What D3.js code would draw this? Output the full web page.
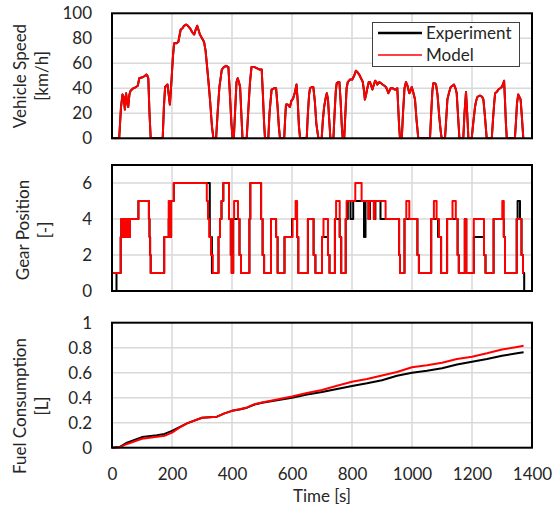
<!DOCTYPE html>
<html><head><meta charset="utf-8">
<script src="https://cdn.jsdelivr.net/npm/d3@7"></script>
<style>
body{margin:0;background:#fff;}
text{font-family:Lato,"Open Sans",sans-serif;fill:#262626;}
</style></head>
<body><svg id="c" width="556" height="508"></svg>
<script>
// ---------- DATA ----------
const xTicks = [0,200,400,600,800,1000,1200,1400];
const speedTicks = [0,20,40,60,80,100];
const gearTicks = [0,2,4,6];
const fuelTicks = [0,0.2,0.4,0.6,0.8,1];
const fuelTickLabels = ["0","0.2","0.4","0.6","0.8","1"];
const seriesNames = ["Experiment","Model"];

// Vehicle speed [km/h] (experiment and model overlap almost perfectly)
const speedTime = [0,20,24,30,35,39,43,47,50,54,58,62,71,80,86,91,104,110,115,118,121,125,129,169,173,177,185,189,193,198,203,207,215,221,225,229,235,240,247,253,260,267,274,279,284,288,293,300,307,312,321,327,333,338,347,352,358,366,373,380,388,393,398,402,406,411,415,419,423,427,432,435,449,455,460,465,475,484,492,499,503,507,510,521,525,532,540,547,552,556,560,574,577,580,586,593,598,604,610,615,619,623,627,649,653,657,660,666,671,676,681,688,699,703,707,712,716,720,724,728,738,742,746,749,754,758,762,766,769,774,778,782,786,793,801,807,813,818,824,830,836,840,843,847,851,856,860,864,868,873,877,881,884,888,891,897,902,908,913,917,921,925,929,936,943,947,951,954,957,960,966,970,975,980,985,991,995,999,1004,1010,1015,1021,1060,1064,1068,1071,1076,1080,1085,1091,1096,1099,1110,1114,1118,1124,1129,1135,1140,1145,1149,1153,1158,1171,1175,1180,1184,1188,1199,1204,1210,1214,1218,1224,1229,1234,1238,1243,1249,1266,1270,1274,1277,1282,1288,1294,1299,1303,1307,1310,1313,1316,1343,1347,1350,1354,1358,1362,1366,1371];
const speedExp = [0,0,0,25,35,33,23,36,30,25,35,38,40,41,42,48,49,50,51,50,48,20,0,0,25,41,43,35,27,45,65,76,76,77,82,87,88,90,91,90,88,85,83,87,90,87,83,80,77,70,47,30,10,0,0,20,41,55,57,58,57,35,12,0,0,25,45,48,45,41,15,0,0,25,45,57,57,56,55,55,35,12,0,0,20,39,40,40,25,10,0,0,15,27,27,25,30,32,37,43,30,10,0,0,20,35,40,41,41,30,12,0,0,15,25,32,36,31,15,0,0,20,38,44,45,45,30,10,0,0,20,40,45,47,47,50,54,53,51,48,45,38,31,35,40,45,45,42,39,43,46,45,43,44,45,44,43,42,41,39,36,38,40,40,39,39,40,25,10,0,0,20,40,45,42,36,38,41,37,31,15,0,0,20,38,44,44,43,35,17,5,0,0,15,31,37,41,42,43,40,36,20,0,0,20,37,20,0,0,12,25,30,33,34,34,33,31,18,0,0,15,28,36,37,39,40,41,43,46,30,12,0,0,15,28,35,33,31,18,0];
const speedModel = speedExp.slice();

// Gear position [-] (step values: gear held from given time)
const gearExpTime = [0,15,29,31,36,39,43,46,50,53,57,60,88,123,125,127,129,174,189,191,197,206,326,333,355,360,365,371,390,396,399,404,425,430,458,461,497,502,507,530,547,552,575,600,617,621,653,672,678,700,720,725,743,759,764,779,786,795,804,840,845,855,860,873,878,895,957,960,975,1018,1023,1064,1087,1097,1117,1152,1156,1176,1181,1206,1240,1245,1272,1306,1310,1349,1352,1360,1365,1370,1374,1376];
const gearExp = [0,1,3,4,3,4,3,4,3,4,3,4,5,4,3,2,1,3,4,3,5,6,3,1,3,4,5,6,4,2,1,4,2,1,4,6,4,2,1,4,3,1,3,4,3,1,4,2,1,3,2,1,4,3,1,4,5,4,5,3,5,4,5,4,5,4,2,1,4,2,1,4,3,1,4,2,1,4,1,3,2,1,4,3,1,4,5,4,2,1,0,0];
const gearModelTime = [0,29,31,36,39,43,46,50,53,57,60,88,123,125,127,129,174,189,191,197,206,316,320,324,330,336,355,360,365,371,390,396,399,404,407,420,425,430,458,461,497,502,507,530,547,552,575,602,612,617,621,653,672,678,700,705,720,725,743,747,759,764,779,782,811,832,855,858,873,876,912,957,960,975,981,991,1018,1023,1064,1073,1082,1090,1097,1117,1135,1146,1152,1156,1176,1181,1206,1240,1245,1272,1301,1306,1310,1349,1365,1370,1373];
const gearModel = [1,3,4,3,4,3,4,3,4,3,4,5,4,3,2,1,3,5,3,5,6,5,4,3,2,1,3,4,5,6,4,2,1,4,5,4,2,1,4,6,4,2,1,4,3,1,3,4,5,3,1,4,2,1,3,4,2,1,4,5,3,1,4,5,6,5,4,5,4,5,4,2,1,4,5,4,2,1,4,5,4,3,1,4,5,4,2,1,4,1,4,2,1,4,5,3,1,4,2,1,1];

// Fuel consumption [L]
const fuelTime = [0,25,50,100,150,175,200,225,250,300,350,375,400,425,450,475,500,550,600,650,700,750,800,850,900,950,1000,1050,1100,1150,1200,1250,1300,1350,1372];
const fuelExp = [0,0.005,0.04,0.085,0.1,0.11,0.135,0.165,0.195,0.24,0.248,0.275,0.295,0.305,0.32,0.345,0.36,0.38,0.40,0.425,0.445,0.47,0.493,0.515,0.54,0.575,0.60,0.615,0.635,0.665,0.688,0.71,0.735,0.755,0.763];
const fuelModel = [0,0.003,0.03,0.072,0.088,0.095,0.12,0.16,0.195,0.24,0.248,0.275,0.295,0.308,0.322,0.348,0.362,0.385,0.41,0.438,0.462,0.495,0.528,0.55,0.578,0.605,0.643,0.66,0.68,0.71,0.728,0.755,0.785,0.805,0.815];

// ---------- DRAW ----------
const svg = d3.select("#c");
const colors = {Experiment:"#000000", Model:"#ff0000"};
const x = d3.scaleLinear().domain([0,1400]).range([112,532]);

const panels = [
  {top:13.3, bottom:138.3, domain:[0,100], ticks:speedTicks, fmt:d=>String(d),
   title:["Vehicle Speed","[km/h]"], titleY:76, titleX:[20,42],
   series:[{t:speedTime,v:speedExp,c:colors.Experiment,curve:d3.curveLinear},
           {t:speedTime,v:speedModel,c:colors.Model,curve:d3.curveLinear}]},
  {top:165, bottom:291, domain:[0,7], ticks:gearTicks, fmt:d=>String(d),
   title:["Gear Position","[-]"], titleY:230, titleX:[23,45],
   series:[{t:gearExpTime,v:gearExp,c:colors.Experiment,curve:d3.curveStepAfter},
           {t:gearModelTime,v:gearModel,c:colors.Model,curve:d3.curveStepAfter}]},
  {top:322.7, bottom:447.7, domain:[0,1], ticks:fuelTicks, fmt:(d,i)=>fuelTickLabels[i],
   title:["Fuel Consumption","[L]"], titleY:406, titleX:[20,42],
   series:[{t:fuelTime,v:fuelExp,c:colors.Experiment,curve:d3.curveLinear},
           {t:fuelTime,v:fuelModel,c:colors.Model,curve:d3.curveLinear}]}
];

panels.forEach((p,pi)=>{
  const y = d3.scaleLinear().domain(p.domain).range([p.bottom,p.top]);
  const g = svg.append("g");
  // grid
  g.selectAll(".vg").data(xTicks.slice(1,-1)).join("line")
    .attr("x1",d=>x(d)).attr("x2",d=>x(d)).attr("y1",p.top).attr("y2",p.bottom)
    .attr("stroke","#d9d9d9").attr("stroke-width",1.5);
  g.selectAll(".hg").data(p.ticks.filter(t=>t>p.domain[0]&&t<p.domain[1])).join("line")
    .attr("x1",112).attr("x2",532).attr("y1",d=>y(d)).attr("y2",d=>y(d))
    .attr("stroke","#d9d9d9").attr("stroke-width",1.5);
  // y axis labels
  const ax = d3.axisLeft(y).tickValues(p.ticks).tickSize(0).tickPadding(20).tickFormat(p.fmt);
  const ag = g.append("g").attr("transform","translate(112,0)").call(ax);
  ag.select(".domain").remove();
  ag.selectAll("text").style("font-size","17px").style("font-family","Lato").attr("fill","#262626");
  // series
  const clipId = "clip"+pi;
  svg.append("clipPath").attr("id",clipId).append("rect")
    .attr("x",112).attr("y",p.top-2).attr("width",420).attr("height",p.bottom-p.top+3);
  p.series.forEach(s=>{
    const line = d3.line().x((d,i)=>x(s.t[i])).y((d,i)=>y(s.v[i])).curve(s.curve);
    g.append("path").datum(s.v).attr("d",line).attr("fill","none")
      .attr("stroke",s.c).attr("stroke-width",2).attr("stroke-linejoin","round")
      .attr("clip-path","url(#"+clipId+")");
  });
  // frame
  g.append("rect").attr("x",112).attr("y",p.top).attr("width",420).attr("height",p.bottom-p.top)
    .attr("fill","none").attr("stroke","#000").attr("stroke-width",2);
  // title
  p.title.forEach((tt,k)=>{
    g.append("text").attr("transform",`translate(${p.titleX[k]},${p.titleY}) rotate(-90)`)
      .attr("text-anchor","middle").attr("dy","0.35em").style("font-size","17px").text(tt);
  });
  if(pi===2){
    const bx = d3.axisBottom(x).tickValues(xTicks).tickSize(0).tickPadding(20).tickFormat(d3.format("d"));
    const bg = g.append("g").attr("transform",`translate(0,${p.bottom})`).call(bx);
    bg.select(".domain").remove();
    bg.selectAll("text").style("font-size","17px").style("font-family","Lato").attr("fill","#262626");
    g.append("text").attr("x",322).attr("y",502).attr("text-anchor","middle")
      .style("font-size","17px").text("Time [s]");
  }
});

// legend
const lg = svg.append("g");
lg.append("rect").attr("x",372.5).attr("y",22.5).attr("width",147).attr("height",44)
  .attr("fill","#fff").attr("stroke","#404040").attr("stroke-width",1);
seriesNames.forEach((n,i)=>{
  const yy = 33 + i*22;
  lg.append("line").attr("x1",378).attr("x2",422).attr("y1",yy).attr("y2",yy)
    .attr("stroke",colors[n]).attr("stroke-width",n==="Model"?1.5:2.5);
  lg.append("text").attr("x",426).attr("y",yy).attr("dy","0.35em").style("font-size","17px").text(n);
});
</script></body></html>
